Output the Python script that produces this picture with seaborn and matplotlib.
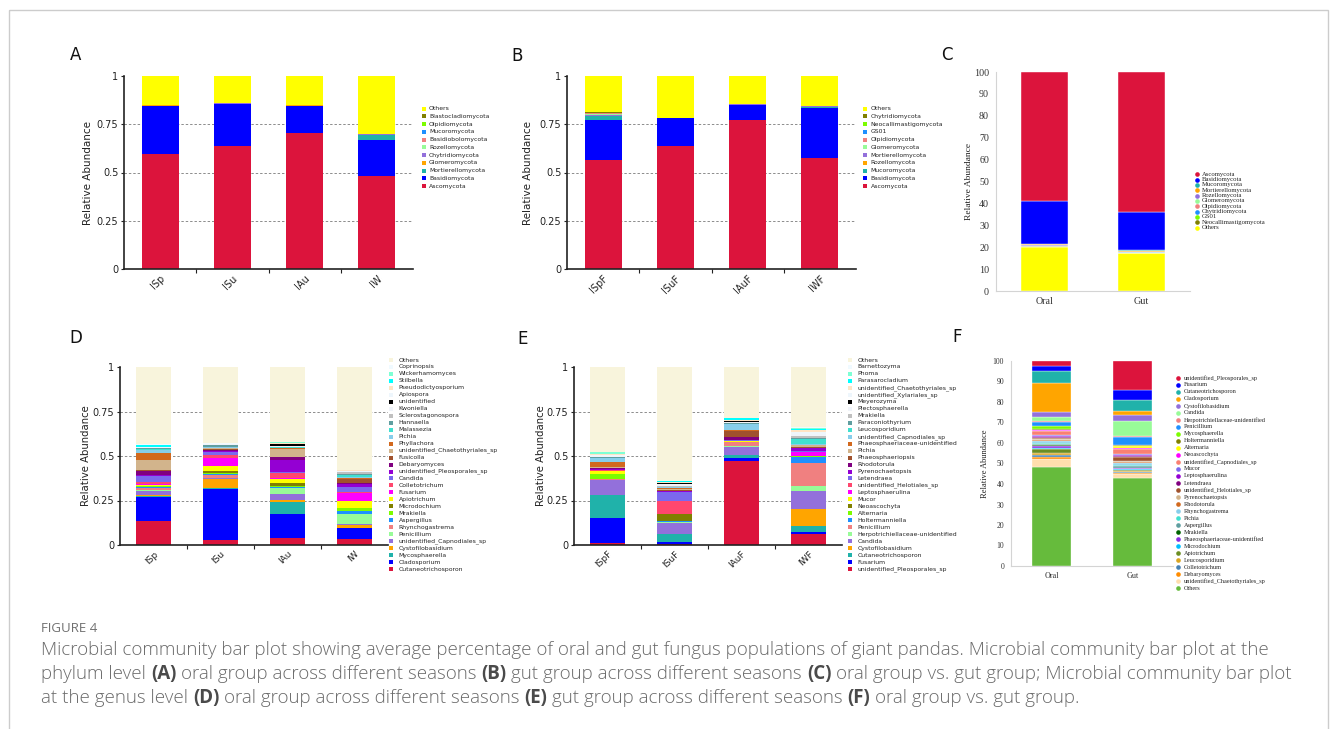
import numpy as np
import pandas as pd
import matplotlib
matplotlib.use("Agg")
import matplotlib.pyplot as plt
import seaborn as sns
from matplotlib.patches import Rectangle
from matplotlib.ticker import FixedLocator

# ======================= DATA =======================
# ---- Panel A : phylum, oral, seasons (stack bottom -> top)
A_samples = ["ISp", "ISu", "IAu", "IW"]
A_taxa = ["Ascomycota", "Basidiomycota", "Mortierellomycota", "Glomeromycota", "Chytridiomycota",
          "Rozellomycota", "Basidiobolomycota", "Mucoromycota", "Olpidiomycota", "Blastocladiomycota", "Others"]
A_colors = ["#DC143C", "#0000FF", "#20B2AA", "#FFA500", "#9370DB", "#98FB98", "#F08080",
            "#1E90FF", "#7CFC00", "#808000", "#FFFF00"]
A_values = [
    [0.596, 0.637, 0.704, 0.482],
    [0.249, 0.218, 0.141, 0.186],
    [0.002, 0.001, 0.002, 0.026],
    [0.001, 0.001, 0.001, 0.001],
    [0.001, 0.001, 0.001, 0.002],
    [0.001, 0.000, 0.001, 0.001],
    [0.000, 0.000, 0.000, 0.001],
    [0.000, 0.000, 0.000, 0.000],
    [0.000, 0.000, 0.000, 0.000],
    [0.000, 0.000, 0.000, 0.000],
    [0.150, 0.142, 0.150, 0.301],
]

# ---- Panel B : phylum, gut, seasons
B_samples = ["ISpF", "ISuF", "IAuF", "IWF"]
B_taxa = ["Ascomycota", "Basidiomycota", "Mucoromycota", "Rozellomycota", "Mortierellomycota",
          "Glomeromycota", "Olpidiomycota", "GS01", "Neocallimastigomycota", "Chytridiomycota", "Others"]
B_colors = ["#DC143C", "#0000FF", "#20B2AA", "#FFA500", "#9370DB", "#98FB98", "#F08080",
            "#1E90FF", "#7CFC00", "#808000", "#FFFF00"]
B_values = [
    [0.563, 0.637, 0.771, 0.575],
    [0.208, 0.144, 0.078, 0.261],
    [0.020, 0.001, 0.001, 0.002],
    [0.002, 0.000, 0.000, 0.000],
    [0.006, 0.002, 0.003, 0.006],
    [0.004, 0.000, 0.000, 0.001],
    [0.004, 0.000, 0.000, 0.000],
    [0.002, 0.000, 0.000, 0.000],
    [0.001, 0.000, 0.000, 0.000],
    [0.001, 0.000, 0.000, 0.000],
    [0.189, 0.216, 0.147, 0.155],
]

# ---- Panel C : phylum, oral vs gut (percent)
C_samples = ["Oral", "Gut"]
C_taxa = ["Others", "Neocallimastigomycota", "GS01", "Chytridiomycota", "Olpidiomycota", "Glomeromycota",
          "Rozellomycota", "Mortierellomycota", "Mucoromycota", "Basidiomycota", "Ascomycota"]
C_colors = ["#FFFF00", "#808000", "#7CFC00", "#1E90FF", "#F08080", "#98FB98",
            "#9370DB", "#FFA500", "#20B2AA", "#0000FF", "#DC143C"]
C_values = [
    [20.3, 17.4],
    [0.05, 0.05],
    [0.05, 0.05],
    [0.10, 0.10],
    [0.10, 0.10],
    [0.15, 0.20],
    [0.30, 0.10],
    [0.30, 0.10],
    [0.15, 0.50],
    [19.4, 17.6],
    [59.1, 63.8],
]

# ---- Panel D : genus, oral, seasons
D_samples = ["ISp", "ISu", "IAu", "IW"]
D_taxa = ["Cutaneotrichosporon", "Cladosporium", "Mycosphaerella", "Cystofilobasidium",
          "unidentified_Capnodiales_sp", "Penicillium", "Rhynchogastrema", "Aspergillus", "Mrakiella",
          "Microdochium", "Apiotrichum", "Fusarium", "Colletotrichum", "Candida",
          "unidentified_Pleosporales_sp", "Debaryomyces", "Fusicolla", "unidentified_Chaetothyriales_sp",
          "Phyllachora", "Pichia", "Malassezia", "Hannaella", "Sclerostagonospora", "Kwoniella",
          "unidentified", "Apiospora", "Pseudodictyosporium", "Stilbella", "Wickerhamomyces",
          "Coprinopsis", "Others"]
D_colors = ["#DC143C", "#0000FF", "#20B2AA", "#FFA500", "#9370DB", "#98FB98", "#F08080", "#1E90FF",
            "#7CFC00", "#808000", "#FFFF00", "#FF00FF", "#FF476E", "#7B68EE", "#9400D3", "#800080",
            "#A0522D", "#D2B48C", "#D2691E", "#87CEEB", "#40E0D0", "#5F9EA0", "#C0C0C0", "#F0F4FA",
            "#000000", "#EEF6FC", "#FFE4C4", "#00FFFF", "#7FFFD4", "#F0FAFF", "#F8F4DC"]
D_values = [
    [0.135, 0.028, 0.037, 0.032],
    [0.136, 0.286, 0.137, 0.061],
    [0.003, 0.004, 0.069, 0.005],
    [0.008, 0.052, 0.010, 0.017],
    [0.022, 0.004, 0.034, 0.004],
    [0.006, 0.004, 0.031, 0.054],
    [0.012, 0.013, 0.004, 0.003],
    [0.004, 0.006, 0.004, 0.015],
    [0.003, 0.006, 0.005, 0.015],
    [0.004, 0.012, 0.020, 0.003],
    [0.003, 0.030, 0.017, 0.038],
    [0.008, 0.041, 0.009, 0.046],
    [0.010, 0.022, 0.025, 0.003],
    [0.034, 0.014, 0.009, 0.031],
    [0.004, 0.006, 0.066, 0.017],
    [0.025, 0.008, 0.018, 0.003],
    [0.002, 0.004, 0.002, 0.021],
    [0.058, 0.003, 0.045, 0.004],
    [0.041, 0.002, 0.002, 0.003],
    [0.018, 0.004, 0.003, 0.005],
    [0.004, 0.004, 0.002, 0.014],
    [0.003, 0.010, 0.002, 0.006],
    [0.002, 0.001, 0.002, 0.008],
    [0.003, 0.001, 0.002, 0.002],
    [0.000, 0.001, 0.013, 0.001],
    [0.003, 0.001, 0.002, 0.002],
    [0.002, 0.001, 0.002, 0.006],
    [0.008, 0.001, 0.002, 0.001],
    [0.003, 0.001, 0.002, 0.001],
    [0.002, 0.001, 0.001, 0.002],
    [0.434, 0.429, 0.423, 0.577],
]

# ---- Panel E : genus, gut, seasons
E_samples = ["ISpF", "ISuF", "IAuF", "IWF"]
E_taxa = ["unidentified_Pleosporales_sp", "Fusarium", "Cutaneotrichosporon", "Cystofilobasidium", "Candida",
          "Herpotrichiellaceae-unidentified", "Penicillium", "Holtermanniella", "Alternaria", "Neoascochyta",
          "Mucor", "Leptosphaerulina", "unidentified_Helotiales_sp", "Letendraea", "Pyrenochaetopsis",
          "Rhodotorula", "Phaeosphaeriopsis", "Pichia", "Phaeosphaeriaceae-unidentified",
          "unidentified_Capnodiales_sp", "Leucosporidium", "Paraconiothyrium", "Mrakiella",
          "Plectosphaerella", "Meyerozyma", "unidentified_Xylariales_sp", "unidentified_Chaetothyriales_sp",
          "Parasarocladium", "Phoma", "Barnettozyma", "Others"]
E_colors = ["#DC143C", "#0000FF", "#20B2AA", "#FFA500", "#9370DB", "#98FB98", "#F08080", "#1E90FF",
            "#7CFC00", "#808000", "#FFFF00", "#FF00FF", "#FF476E", "#7B68EE", "#9400D3", "#800080",
            "#A0522D", "#D2B48C", "#D2691E", "#87CEEB", "#40E0D0", "#5F9EA0", "#C0C0C0", "#F0F4FA",
            "#000000", "#EEF6FC", "#FFE4C4", "#00FFFF", "#7FFFD4", "#F0FAFF", "#F8F4DC"]
E_values = [
    [0.009, 0.006, 0.471, 0.064],
    [0.144, 0.010, 0.018, 0.009],
    [0.127, 0.044, 0.015, 0.034],
    [0.003, 0.004, 0.002, 0.097],
    [0.080, 0.057, 0.045, 0.101],
    [0.003, 0.008, 0.003, 0.026],
    [0.002, 0.003, 0.022, 0.131],
    [0.002, 0.002, 0.002, 0.033],
    [0.027, 0.001, 0.001, 0.003],
    [0.002, 0.039, 0.002, 0.001],
    [0.017, 0.001, 0.001, 0.002],
    [0.002, 0.001, 0.002, 0.021],
    [0.004, 0.073, 0.003, 0.002],
    [0.002, 0.050, 0.002, 0.002],
    [0.002, 0.003, 0.002, 0.017],
    [0.005, 0.002, 0.013, 0.004],
    [0.002, 0.003, 0.035, 0.003],
    [0.003, 0.008, 0.003, 0.012],
    [0.030, 0.003, 0.004, 0.002],
    [0.022, 0.006, 0.032, 0.004],
    [0.003, 0.002, 0.003, 0.025],
    [0.002, 0.002, 0.002, 0.010],
    [0.002, 0.004, 0.002, 0.010],
    [0.004, 0.008, 0.008, 0.012],
    [0.000, 0.006, 0.001, 0.001],
    [0.004, 0.004, 0.004, 0.010],
    [0.008, 0.006, 0.005, 0.012],
    [0.002, 0.001, 0.008, 0.002],
    [0.009, 0.002, 0.002, 0.010],
    [0.003, 0.003, 0.002, 0.005],
    [0.475, 0.638, 0.285, 0.335],
]

# ---- Panel F : genus, oral vs gut (percent)
F_samples = ["Oral", "Gut"]
F_taxa = ["Others", "unidentified_Chaetothyriales_sp", "Debaryomyces", "Colletotrichum", "Leucosporidium",
          "Apiotrichum", "Microdochium", "Phaeosphaeriaceae-unidentified", "Mrakiella", "Aspergillus",
          "Pichia", "Rhynchogastrema", "Rhodotorula", "Pyrenochaetopsis", "unidentified_Helotiales_sp",
          "Letendraea", "Leptosphaerulina", "Mucor", "unidentified_Capnodiales_sp", "Neoascochyta",
          "Alternaria", "Holtermanniella", "Mycosphaerella", "Penicillium",
          "Herpotrichiellaceae-unidentified", "Candida", "Cystofilobasidium", "Cladosporium",
          "Cutaneotrichosporon", "Fusarium", "unidentified_Pleosporales_sp"]
F_colors = ["#66BB3C", "#FFDEAD", "#FF8C00", "#4682B4", "#DAA520", "#6B8E23", "#00BFFF", "#8A2BE2",
            "#006400", "#5F9EA0", "#40E0D0", "#87CEEB", "#D2691E", "#D2B48C", "#A0522D", "#800080",
            "#9400D3", "#7B68EE", "#FA8072", "#FF00FF", "#FFFF00", "#808000", "#7CFC00", "#1E90FF",
            "#F08080", "#98FB98", "#9370DB", "#FFA500", "#20B2AA", "#0000FF", "#DC143C"]
F_oral = [48.4, 3.6, 1.1, 1.2, 0.9, 2.1, 0.5, 0.5, 0.7, 0.5, 0.7, 0.9, 0.4, 0.5, 0.4, 0.5,
          0.5, 0.4, 2.0, 0.3, 0.4, 0.3, 1.5, 1.9, 0.3, 2.1, 2.3, 14.2, 5.8, 2.6, 2.5]
F_gut = [42.7, 2.0, 0.5, 0.5, 0.5, 0.4, 0.5, 0.6, 0.3, 0.6, 0.9, 0.7, 0.4, 0.6, 1.8, 0.6,
         0.6, 0.5, 2.2, 0.7, 0.8, 0.4, 0.4, 3.8, 0.5, 7.3, 2.8, 2.2, 5.3, 4.9, 14.0]

# caption
CAP_HEAD = "FIGURE 4"
CAP_L1 = [("Microbial community bar plot showing average percentage of oral and gut fungus "
           "populations of giant pandas. Microbial community bar plot at the", False)]
CAP_L2 = [("phylum level", False), ("(A)", True), ("oral group across different seasons", False),
          ("(B)", True), ("gut group across different seasons", False), ("(C)", True),
          ("oral group vs. gut group; Microbial community bar plot", False)]
CAP_L3 = [("at the genus level", False), ("(D)", True), ("oral group across different seasons", False),
          ("(E)", True), ("gut group across different seasons", False), ("(F)", True),
          ("oral group vs. gut group.", False)]

# ======================= FIGURE =======================
sns.set_style("white")
plt.rcParams["font.family"] = ["DejaVu Sans"]
SERIF = ["Liberation Serif", "DejaVu Serif"]

W, H = 1333, 729
fig = plt.figure(figsize=(W / 100, H / 100), dpi=100)
fig.patch.set_facecolor("white")


def add_ax(l, t, r, b):
    return fig.add_axes([l / W, 1 - b / H, (r - l) / W, (b - t) / H])


def stacked(ax, samples, values, colors, width, ec="none", lw=0.0):
    vals = np.asarray(values, float)
    base = np.zeros(vals.shape[1])
    for row, col in zip(vals, colors):
        df = pd.DataFrame({"sample": samples, "v": row})
        sns.barplot(data=df, x="sample", y="v", order=samples, bottom=base.copy(), color=col,
                    saturation=1, width=width, errorbar=None, ax=ax, edgecolor=ec, linewidth=lw)
        base = base + row


def style_sans(ax, samples, tick_fs=7.0, xfs=7.0):
    n = len(samples)
    ax.set_xlim(-0.5, n - 0.5)
    ax.set_ylim(0, 1)
    ax.set_facecolor("none")
    for s in ["top", "right"]:
        ax.spines[s].set_visible(False)
    for s in ["left", "bottom"]:
        ax.spines[s].set_color("#222222")
        ax.spines[s].set_linewidth(1.2)
    ax.set_yticks([0, 0.25, 0.5, 0.75, 1])
    ax.set_yticklabels(["0", "0.25", "0.5", "0.75", "1"], fontsize=tick_fs, color="#222222")
    ax.set_xticks(range(n))
    ax.set_xticklabels(samples, rotation=45, ha="right", rotation_mode="anchor", fontsize=xfs,
                       color="#222222")
    ax.xaxis.set_minor_locator(FixedLocator([i + 0.5 for i in range(n - 1)]))
    ax.tick_params(axis="x", which="major", length=0, pad=3, bottom=True)
    ax.tick_params(axis="x", which="minor", length=3, width=0.8, color="#222222", bottom=True)
    ax.tick_params(axis="y", length=2.5, width=0.8, color="#222222", pad=1.5, left=True)
    for y in [0.25, 0.5, 0.75]:
        ax.axhline(y, color="#8c8c8c", lw=0.7, ls=(0, (2.5, 2)), zorder=0.5)
    ax.set_xlabel("")
    ax.set_ylabel("")


def style_serif(ax, samples, tick_fs, xfs):
    n = len(samples)
    ax.set_xlim(-0.5, n - 0.5)
    ax.set_ylim(0, 100)
    ax.set_facecolor("none")
    for s in ["top", "right"]:
        ax.spines[s].set_visible(False)
    for s in ["left", "bottom"]:
        ax.spines[s].set_color("#d4d4d4")
        ax.spines[s].set_linewidth(0.8)
    ax.set_yticks(range(0, 101, 10))
    ax.set_yticklabels([str(v) for v in range(0, 101, 10)], fontsize=tick_fs, family=SERIF,
                       color="#333333")
    ax.set_xticks(range(n))
    ax.set_xticklabels(samples, fontsize=xfs, family=SERIF, color="#333333")
    ax.tick_params(axis="both", length=0)
    ax.tick_params(axis="y", pad=5)
    ax.tick_params(axis="x", pad=4)
    ax.set_xlabel("")
    ax.set_ylabel("")


# ---- axes
axA = add_ax(124, 76, 413, 269)
stacked(axA, A_samples, A_values, A_colors, 0.51)
style_sans(axA, A_samples)

axB = add_ax(567, 76, 856, 269)
stacked(axB, B_samples, B_values, B_colors, 0.51)
style_sans(axB, B_samples)

axC = add_ax(996, 72, 1190, 291)
stacked(axC, C_samples, C_values, C_colors, 0.475, ec="white", lw=0.3)
style_serif(axC, C_samples, 7.2, 7.2)

axD = add_ax(120, 367, 388, 545)
stacked(axD, D_samples, D_values, D_colors, 0.51)
style_sans(axD, D_samples, 7.0, 6.5)

axE = add_ax(574, 367, 842, 545)
stacked(axE, E_samples, E_values, E_colors, 0.51)
style_sans(axE, E_samples, 7.0, 6.5)

axF = add_ax(1011, 361, 1173, 566)
F_values = [[o, g] for o, g in zip(F_oral, F_gut)]
stacked(axF, F_samples, F_values, F_colors, 0.48, ec="white", lw=0.25)
style_serif(axF, F_samples, 5.5, 5.8)

# ---- overlay in pixel units
ov = fig.add_axes([0, 0, 1, 1], zorder=10)
ov.set_xlim(0, W)
ov.set_ylim(H, 0)
ov.axis("off")

ov.add_patch(Rectangle((8.5, 9.5), 1319, 800, fill=False, ec="#cccccc", lw=1.0, clip_on=False))

for lab, (x, y) in zip("ABCDEF", [(76, 55), (517, 56), (947, 55), (76, 338), (523, 339), (957, 337)]):
    ov.text(x, y, lab, fontsize=12, ha="center", va="center", color="#111111")

for (x, y, fam, fs) in [(88, 172.5, ["DejaVu Sans"], 7.5), (528, 172.5, ["DejaVu Sans"], 7.5),
                        (969, 181.5, SERIF, 6.8), (86, 456, ["DejaVu Sans"], 7.3),
                        (541, 456, ["DejaVu Sans"], 7.3), (985, 463.5, SERIF, 6.0)]:
    ov.text(x, y, "Relative Abundance", rotation=90, ha="center", va="center", fontsize=fs,
            family=fam, color="#222222")


def legend(taxa, colors, mx, tx, y0, dy, fs, marker, ms, fam):
    names = list(taxa)[::-1]
    cols = list(colors)[::-1]
    for i, (nm, c) in enumerate(zip(names, cols)):
        y = y0 + i * dy
        ov.scatter([mx], [y], marker=marker, s=ms, color=c, linewidths=0, clip_on=False)
        ov.text(tx, y, nm, fontsize=fs, ha="left", va="center", family=fam, color="#222222")


legend(A_taxa, A_colors, 424, 429, 108.7, 7.73, 4.4, "s", 10, ["DejaVu Sans"])
legend(B_taxa, B_colors, 865, 870.5, 108.7, 7.73, 4.4, "s", 10, ["DejaVu Sans"])
legend(C_taxa, C_colors, 1197, 1202, 174.3, 5.33, 4.8, "o", 11, SERIF)
legend(D_taxa, D_colors, 391, 398.5, 360, 6.97, 4.4, "s", 9, ["DejaVu Sans"])
legend(E_taxa, E_colors, 850, 857.5, 360, 6.97, 4.4, "s", 9, ["DejaVu Sans"])
legend(F_taxa, F_colors, 1178, 1183.5, 377.7, 7.02, 4.5, "o", 11, SERIF)

# ---- caption
R = fig.canvas.get_renderer()
CAPF = ["Open Sans", "DejaVu Sans"]


def tw(s, fs, bold=False):
    t = ov.text(0, 0, s, fontsize=fs, family=CAPF, weight="bold" if bold else "light")
    w = t.get_window_extent(R).width
    t.remove()
    return w


def line_width(parts, fs):
    sp = tw("a a", fs) - tw("aa", fs)
    return sum(tw(t, fs, b) for t, b in parts) + sp * (len(parts) - 1)


base_fs = 12.0
fs_cap = min(base_fs * 1249.0 / line_width(CAP_L1, base_fs),
             base_fs * 1250.0 / line_width(CAP_L2, base_fs))
space_w = tw("a a", fs_cap) - tw("aa", fs_cap)


def run_line(x0, y, parts):
    x = x0
    for i, (txt, b) in enumerate(parts):
        if i > 0:
            x += space_w
        t = ov.text(x, y, txt, fontsize=fs_cap, family=CAPF, weight="bold" if b else "light",
                    color="#4a4a4a" if b else "#6a6a6a", ha="left", va="baseline")
        x += t.get_window_extent(R).width


ov.text(41, 632, CAP_HEAD, fontsize=9.5, family=CAPF, color="#707070", ha="left", va="baseline")
run_line(41, 655, CAP_L1)
run_line(41, 679, CAP_L2)
run_line(41, 703, CAP_L3)

fig.savefig("out.png", dpi=100, facecolor="white")
